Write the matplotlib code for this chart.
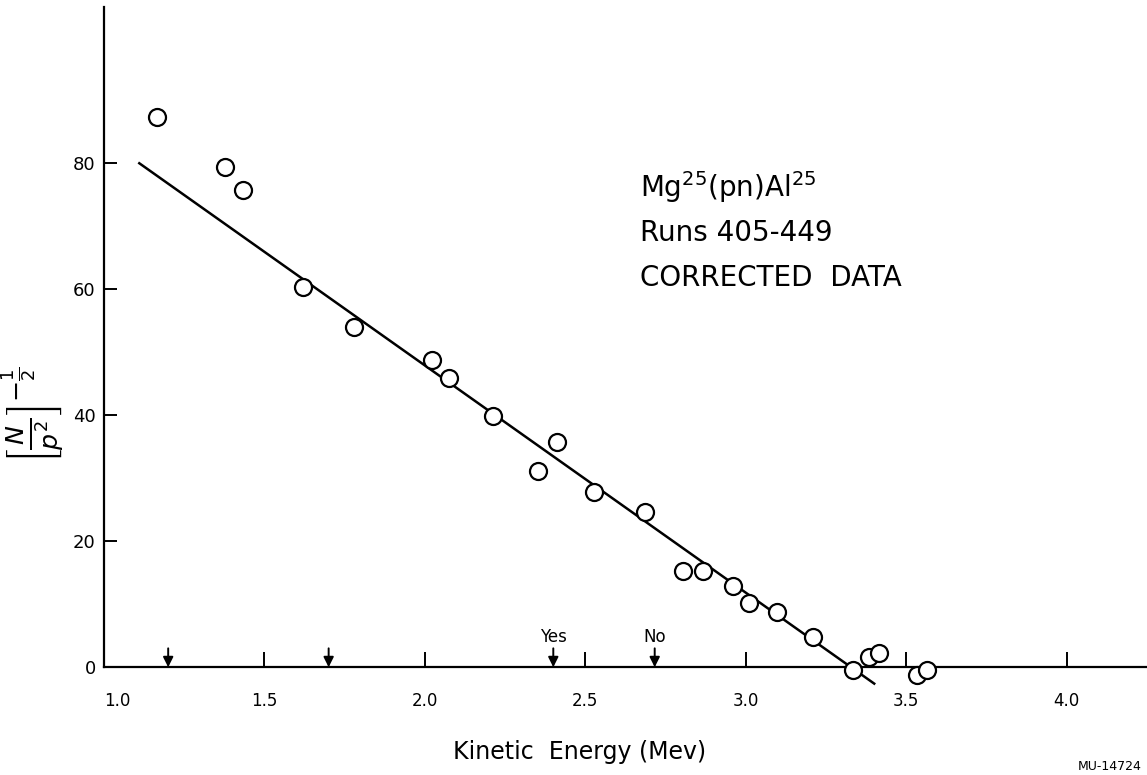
import matplotlib.pyplot as plt

# Data
energy = [1.165, 1.377, 1.434, 1.619, 1.78, 2.021, 2.076, 2.213, 2.351, 2.41,
          2.526, 2.685, 2.805, 2.867, 2.96, 3.009, 3.097, 3.209, 3.334, 3.383,
          3.414, 3.534, 3.565]
value = [87.4, 79.4, 75.8, 60.3, 54.0, 48.8, 45.9, 39.9, 31.2, 35.7,
         27.8, 24.6, 15.3, 15.3, 12.9, 10.2, 8.7, 4.8, -0.4, 1.7,
         2.2, -1.2, -0.4]

fit_x = [1.11, 3.40]
fit_y = [80.0, -2.6]

arrow_x = [1.2, 1.7, 2.4, 2.716]
arrow_lbl = ['', '', 'Yes', 'No']

xticks = [1.0, 1.5, 2.0, 2.5, 3.0, 3.5, 4.0]
xtick_lbl = ['1.0', '1.5', '2.0', '2.5', '3.0', '3.5', '4.0']
yticks = [0, 20, 40, 60, 80]

fig = plt.figure(figsize=(11.47, 7.75), dpi=100)
ax = fig.add_axes([104 / 1147, 75 / 775, 1 - 104 / 1147, 693 / 775])

ax.plot(fit_x, fit_y, color='black', lw=1.8, zorder=2)
ax.scatter(energy, value, s=150, facecolors='white', edgecolors='black',
           linewidths=1.6, zorder=3)

for xa, lbl in zip(arrow_x, arrow_lbl):
    ax.annotate('', xy=(xa, 0), xytext=(xa, 3.0),
                arrowprops=dict(arrowstyle='-|>', color='black', lw=1.4,
                                mutation_scale=15, shrinkA=0, shrinkB=0))
    if lbl:
        ax.text(xa, 3.3, lbl, ha='center', va='bottom', fontsize=12)

ax.set_xlim(1.0, 4.25)
ax.set_ylim(-5.2, 104.8)

for s in ['top', 'right']:
    ax.spines[s].set_visible(False)
ax.spines['bottom'].set_position(('data', 0))
ax.spines['left'].set_bounds(0, 104.8)
ax.spines['bottom'].set_linewidth(1.6)
ax.spines['left'].set_linewidth(1.6)

ax.set_xticks(xticks)
ax.set_xticklabels(xtick_lbl, fontsize=12)
ax.set_yticks(yticks)
ax.set_yticklabels([str(t) for t in yticks], fontsize=13)
ax.tick_params(axis='x', direction='in', length=11, width=1.4, pad=18)
ax.tick_params(axis='y', direction='in', length=9, width=1.4, pad=6)
ax.xaxis.get_majorticklabels()[0].set_horizontalalignment('left')

ax.text(0.514, 0.726, 'Mg$^{25}$(pn)Al$^{25}$', transform=ax.transAxes, fontsize=20)
ax.text(0.514, 0.662, 'Runs 405-449', transform=ax.transAxes, fontsize=20)
ax.text(0.514, 0.598, 'CORRECTED  DATA', transform=ax.transAxes, fontsize=20)

fig.text(33 / 1147, 1 - 415 / 775, r'$\left[\frac{N}{p^2}\right]^{-\frac{1}{2}}$',
         rotation=90, ha='center', va='center', fontsize=26)
fig.text(580 / 1147, 1 - 752 / 775, 'Kinetic  Energy (Mev)', ha='center',
         va='center', fontsize=17)
fig.text(0.995, 0.003, 'MU-14724', ha='right', va='bottom', fontsize=9)

fig.savefig('out.png', dpi=100)
